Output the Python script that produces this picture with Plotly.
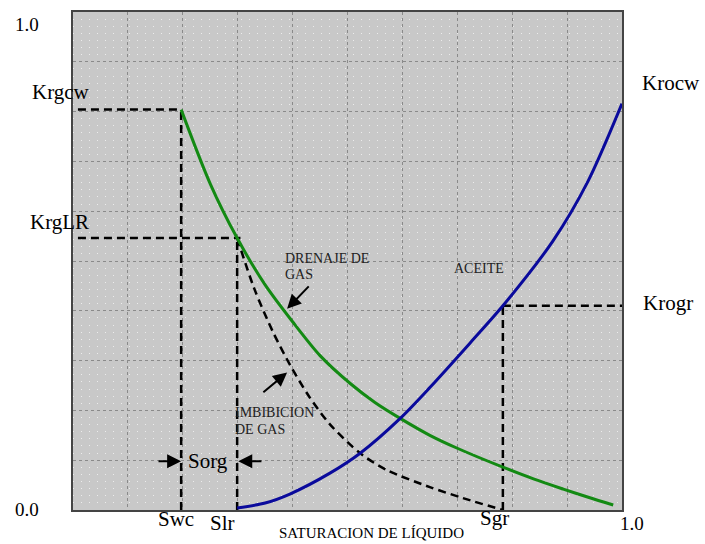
import plotly.graph_objects as go

# Gas relative permeability, drainage path
sat_drain = [0.197, 0.250, 0.299, 0.350, 0.400, 0.450, 0.505, 0.550, 0.596, 0.650,
             0.700, 0.783, 0.840, 0.893, 0.940, 0.984]
krg_drain = [0.804, 0.655, 0.546, 0.452, 0.378, 0.310, 0.254, 0.216, 0.184, 0.150,
             0.124, 0.086, 0.062, 0.042, 0.025, 0.010]

# Gas relative permeability, imbibition path
sat_imb = [0.299, 0.330, 0.364, 0.395, 0.430, 0.468, 0.523, 0.572, 0.650, 0.710, 0.783]
krg_imb = [0.546, 0.445, 0.358, 0.292, 0.228, 0.172, 0.114, 0.080, 0.046, 0.024, 0.0]

# Oil relative permeability
sat_oil = [0.299, 0.350, 0.395, 0.468, 0.523, 0.596, 0.650, 0.723, 0.783, 0.874, 0.938, 1.0]
kro = [0.004, 0.014, 0.032, 0.074, 0.114, 0.184, 0.246, 0.335, 0.410, 0.540, 0.660, 0.816]

# End points
swc, slr, sgr = 0.197, 0.299, 0.783
krgcw, krglr, krogr = 0.804, 0.546, 0.410

SERIF = "Liberation Serif, Times New Roman, serif"
GREEN = "#138a13"
BLUE = "#0a0a9c"

fig = go.Figure()

dash_style = dict(color="black", width=2.5, dash="8px,5px")
ref_lines = [
    ([0.009, swc], [krgcw, krgcw]),
    ([swc, swc], [0, krgcw]),
    ([0.009, slr + 0.006], [krglr, krglr]),
    ([slr, slr], [0, krglr]),
    ([sgr, 1.0], [krogr, krogr]),
    ([sgr, sgr], [0, krogr]),
]
for xs, ys in ref_lines:
    fig.add_trace(go.Scatter(x=xs, y=ys, mode="lines", line=dash_style,
                             hoverinfo="skip", showlegend=False))

fig.add_trace(go.Scatter(x=sat_imb, y=krg_imb, mode="lines",
                         line=dict(color="black", width=2.5, dash="8px,5px",
                                   shape="spline", smoothing=0.8),
                         showlegend=False))
fig.add_trace(go.Scatter(x=sat_drain, y=krg_drain, mode="lines",
                         line=dict(color=GREEN, width=3, shape="spline", smoothing=0.8),
                         showlegend=False))
fig.add_trace(go.Scatter(x=sat_oil, y=kro, mode="lines",
                         line=dict(color=BLUE, width=3, shape="spline", smoothing=0.8),
                         showlegend=False))

# plot area in pixels: x 73..622, y 10..510
L, R, T, B = 73, 622, 10, 510


def px(xp):
    return (xp - L) / (R - L)


def py(yp):
    return (B - yp) / (B - T)


def label(text, xp, yp, size=20, xanchor="center", color="black"):
    fig.add_annotation(text=text, xref="paper", yref="paper", x=px(xp), y=py(yp),
                       xanchor=xanchor, yanchor="middle", showarrow=False,
                       font=dict(family=SERIF, size=size, color=color))


label("1.0", 27, 23, 19)
label("0.0", 27, 509, 19)
label("1.0", 632, 524, 19)
label("Krgcw", 61, 90, 21)
label("KrgLR", 59, 221, 21)
label("Krocw", 671, 81, 21)
label("Krogr", 668, 302, 21)
label("Swc", 176, 519, 21)
label("Slr", 222, 523, 21)
label("Sgr", 494, 518, 21)
label("Sorg", 208, 461, 21)
label("SATURACION DE LÍQUIDO", 371, 533, 15)
label("ACEITE", 452, 268, 14, xanchor="left", color="#222")
label("DRENAJE DE", 283, 257, 14, xanchor="left", color="#222")
label("GAS", 283, 274, 14, xanchor="left", color="#222")
label("IMBIBICION", 233, 412, 14, xanchor="left", color="#222")
label("DE GAS", 233, 429, 14, xanchor="left", color="#222")

arrows = [
    (swc, 0.098, 0.153, 0.098),
    (slr + 0.002, 0.098, 0.346, 0.098),
    (0.390, 0.404, 0.432, 0.452),
    (0.390, 0.276, 0.344, 0.234),
]
for x, y, ax, ay in arrows:
    fig.add_annotation(x=x, y=y, ax=ax, ay=ay, xref="x", yref="y", axref="x", ayref="y",
                       text="", showarrow=True, arrowhead=2, arrowsize=1.4,
                       arrowwidth=2, arrowcolor="black", standoff=0)

axis_common = dict(range=[0, 1], dtick=0.1, showgrid=True, gridcolor="#8a8a8a",
                   griddash="dot", gridwidth=1, showticklabels=False, ticks="",
                   zeroline=False, showline=True, linecolor="#444", linewidth=1.5,
                   mirror=True, fixedrange=True)

fig.update_xaxes(**axis_common)
fig.update_yaxes(**axis_common,
                 minor=dict(dtick=1 / 70, showgrid=True, gridcolor="#ececec",
                            griddash="1px,7px", gridwidth=1))

fig.update_layout(
    width=705, height=544,
    margin=dict(l=L, r=705 - R, t=T, b=544 - B),
    paper_bgcolor="white",
    plot_bgcolor="#c8c8c8",
    showlegend=False,
)

fig.write_html("out.html")
